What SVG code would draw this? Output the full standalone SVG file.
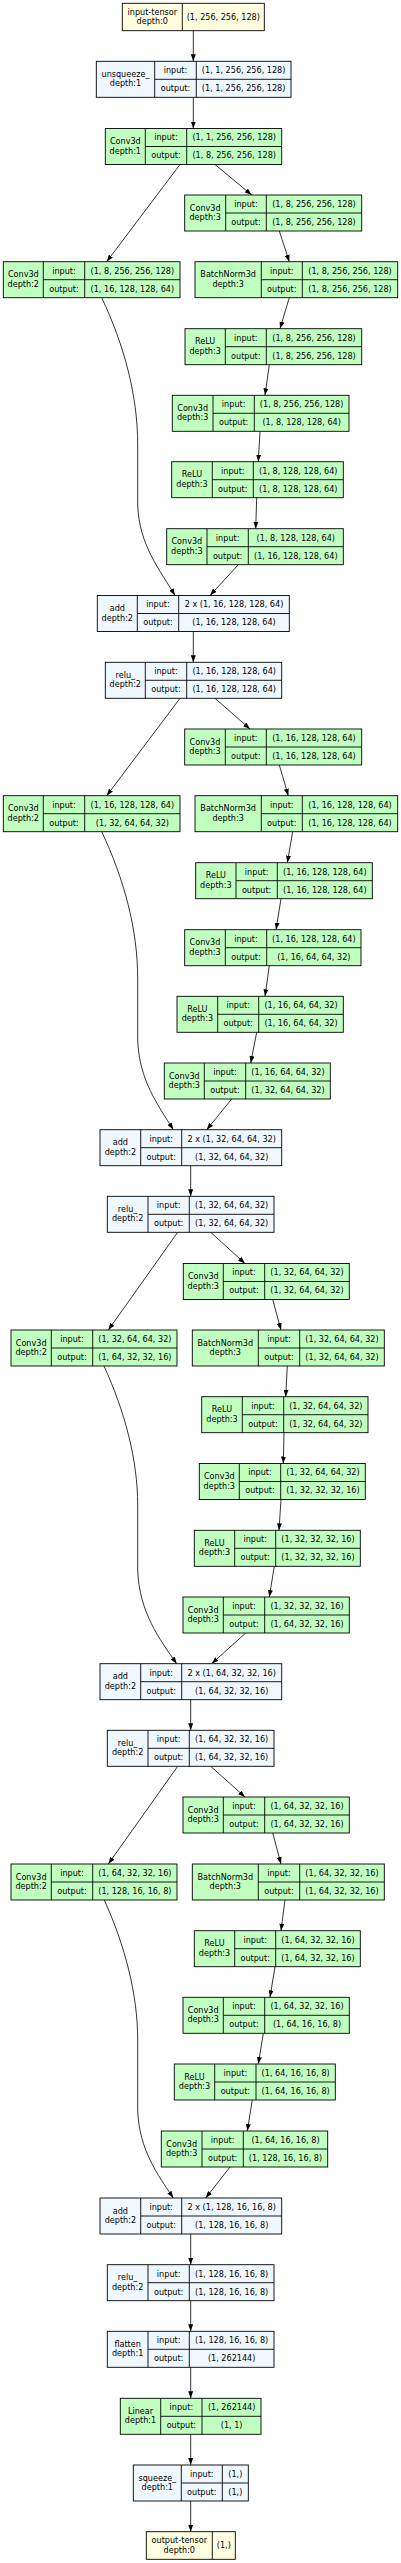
<svg xmlns="http://www.w3.org/2000/svg" width="401" height="2563" viewBox="0 0 401 2563">
<style>
.box{stroke:#000;stroke-width:0.9}
.t{fill:#ffffe0}.f{fill:#f0f8ff}.m{fill:#c1ffc1}
.ln{stroke:#000;stroke-width:0.9;fill:none}
text{font-family:"DejaVu Sans",sans-serif;font-size:8.1px;text-anchor:middle;fill:#000}
.e{stroke:#000;stroke-width:0.8;fill:none;marker-end:url(#ah)}
</style>
<defs>
<marker id="ah" markerUnits="userSpaceOnUse" markerWidth="7" markerHeight="5" refX="7" refY="2.5" orient="auto"><path d="M0,0L7,2.5L0,5z" fill="#000"/></marker>
</defs>
<rect width="401" height="2563" fill="#fff"/>
<g id="edges">
<path class="e" d="M193.3,30.7L193.3,61.3"/>
<path class="e" d="M193.3,97.3L193.3,128.5"/>
<path class="e" d="M215,164.5L251.7,195"/>
<path class="e" d="M180,164.5L106.7,261.7"/>
<path class="e" d="M279.3,231L289.3,261.7"/>
<path class="e" d="M289.3,297.7L280,328.7"/>
<path class="e" d="M269.3,364.7L265,395.3"/>
<path class="e" d="M260,431.3L258.3,461.7"/>
<path class="e" d="M256.7,497.7L255.7,528.7"/>
<path class="e" d="M238.3,564.7L210,595.5"/>
<path class="e" d="M101.7,297.7C124,345 137.7,395 137.7,445L137.7,505C139,545 160,570 175,595.5"/>
<path class="e" d="M193.3,631.5L193.3,662.3"/>
<path class="e" d="M215,698.3L250,729"/>
<path class="e" d="M180,698.3L106.7,795.7"/>
<path class="e" d="M279.3,765L288.3,795.7"/>
<path class="e" d="M292.7,831.7L287.3,862.7"/>
<path class="e" d="M281,898.7L276,929.7"/>
<path class="e" d="M269.3,965.7L265,996.3"/>
<path class="e" d="M256.7,1032.3L250.7,1063"/>
<path class="e" d="M231.7,1099L206.7,1129.7"/>
<path class="e" d="M101.7,831.7C124,879 137.7,929 137.7,979L137.7,1040C139,1080 158,1105 173.3,1129.7"/>
<path class="e" d="M190.7,1165.7L190.7,1196.3"/>
<path class="e" d="M210.7,1232.3L245,1263.5"/>
<path class="e" d="M177.7,1232.3L108.3,1330"/>
<path class="e" d="M272.7,1299.5L281,1330"/>
<path class="e" d="M287.3,1366L285.7,1396.7"/>
<path class="e" d="M284,1432.7L283.3,1463.5"/>
<path class="e" d="M281,1499.5L279,1530.3"/>
<path class="e" d="M274.3,1566.3L269.3,1597"/>
<path class="e" d="M245.7,1633L211.7,1663.7"/>
<path class="e" d="M104,1366C125,1412 137.7,1460 137.7,1505L137.7,1570C139,1612 160,1640 176.7,1663.7"/>
<path class="e" d="M190.7,1699.7L190.7,1730.3"/>
<path class="e" d="M210.7,1766.3L245,1797"/>
<path class="e" d="M177.7,1766.3L108.3,1864"/>
<path class="e" d="M272.7,1833L281,1864"/>
<path class="e" d="M285,1900L281,1930.7"/>
<path class="e" d="M275,1966.7L270,1997.3"/>
<path class="e" d="M263.3,2033.3L258.3,2064"/>
<path class="e" d="M252.3,2100L247.3,2131"/>
<path class="e" d="M230,2167L205.7,2198"/>
<path class="e" d="M104.3,1900C125,1946 137.7,1994 137.7,2040L137.7,2110C139,2150 158,2175 173.3,2198"/>
<path class="e" d="M190.7,2234L190.7,2264.7"/>
<path class="e" d="M190.7,2300.7L190.7,2331.3"/>
<path class="e" d="M190.7,2367.3L190.7,2398.3"/>
<path class="e" d="M190.7,2434.3L190.7,2465"/>
<path class="e" d="M190.7,2501L190.7,2531.7"/>
</g>

<g id="n0" transform="translate(122.3,3.3)"><rect class="box t" width="142" height="27.4"/><path class="ln" d="M60,0V27.4"/><text x="30" y="11.7">input-tensor</text><text x="30" y="21.2">depth:0</text><text x="101" y="16.7">(1, 256, 256, 128)</text></g>

<g id="n1" transform="translate(96.3,61.3)"><rect class="box f" width="194.7" height="36"/><path class="ln" d="M58.4,0V36M100,0V36M58.4,18H194.7"/><text x="29.2" y="15.5">unsqueeze_</text><text x="29.2" y="25">depth:1</text><text x="79.2" y="11.9">input:</text><text x="79.2" y="29.9">output:</text><text x="147.35" y="11.9">(1, 1, 256, 256, 128)</text><text x="147.35" y="29.9">(1, 1, 256, 256, 128)</text></g>

<g id="n2" transform="translate(105.3,128.5)"><rect class="box m" width="176.4" height="36"/><path class="ln" d="M40,0V36M81.4,0V36M40,18H176.4"/><text x="20" y="15.5">Conv3d</text><text x="20" y="25">depth:1</text><text x="60.7" y="11.9">input:</text><text x="60.7" y="29.9">output:</text><text x="128.9" y="11.9">(1, 1, 256, 256, 128)</text><text x="128.9" y="29.9">(1, 8, 256, 256, 128)</text></g>

<g id="n3" transform="translate(184.7,195)"><rect class="box m" width="177" height="36"/><path class="ln" d="M41,0V36M81.6,0V36M41,18H177"/><text x="20.5" y="15.5">Conv3d</text><text x="20.5" y="25">depth:3</text><text x="61.3" y="11.9">input:</text><text x="61.3" y="29.9">output:</text><text x="129.3" y="11.9">(1, 8, 256, 256, 128)</text><text x="129.3" y="29.9">(1, 8, 256, 256, 128)</text></g>

<g id="n4" transform="translate(3.3,261.7)"><rect class="box m" width="176.7" height="36"/><path class="ln" d="M40,0V36M81.4,0V36M40,18H176.7"/><text x="20" y="15.5">Conv3d</text><text x="20" y="25">depth:2</text><text x="60.7" y="11.9">input:</text><text x="60.7" y="29.9">output:</text><text x="129.05" y="11.9">(1, 8, 256, 256, 128)</text><text x="129.05" y="29.9">(1, 16, 128, 128, 64)</text></g>

<g id="n5" transform="translate(195,261.7)"><rect class="box m" width="202.7" height="36"/><path class="ln" d="M66.3,0V36M107.3,0V36M66.3,18H202.7"/><text x="33.15" y="15.5">BatchNorm3d</text><text x="33.15" y="25">depth:3</text><text x="86.8" y="11.9">input:</text><text x="86.8" y="29.9">output:</text><text x="155" y="11.9">(1, 8, 256, 256, 128)</text><text x="155" y="29.9">(1, 8, 256, 256, 128)</text></g>

<g id="n6" transform="translate(185,328.7)"><rect class="box m" width="176.7" height="36"/><path class="ln" d="M40.3,0V36M81.3,0V36M40.3,18H176.7"/><text x="20.15" y="15.5">ReLU</text><text x="20.15" y="25">depth:3</text><text x="60.8" y="11.9">input:</text><text x="60.8" y="29.9">output:</text><text x="129" y="11.9">(1, 8, 256, 256, 128)</text><text x="129" y="29.9">(1, 8, 256, 256, 128)</text></g>

<g id="n7" transform="translate(172.3,395.3)"><rect class="box m" width="176.7" height="36"/><path class="ln" d="M40.7,0V36M82,0V36M40.7,18H176.7"/><text x="20.35" y="15.5">Conv3d</text><text x="20.35" y="25">depth:3</text><text x="61.35" y="11.9">input:</text><text x="61.35" y="29.9">output:</text><text x="129.35" y="11.9">(1, 8, 256, 256, 128)</text><text x="129.35" y="29.9">(1, 8, 128, 128, 64)</text></g>

<g id="n8" transform="translate(171.7,461.7)"><rect class="box m" width="171.6" height="36"/><path class="ln" d="M40.6,0V36M81.6,0V36M40.6,18H171.6"/><text x="20.3" y="15.5">ReLU</text><text x="20.3" y="25">depth:3</text><text x="61.1" y="11.9">input:</text><text x="61.1" y="29.9">output:</text><text x="126.6" y="11.9">(1, 8, 128, 128, 64)</text><text x="126.6" y="29.9">(1, 8, 128, 128, 64)</text></g>

<g id="n9" transform="translate(166.7,528.7)"><rect class="box m" width="176.6" height="36"/><path class="ln" d="M40.3,0V36M81.6,0V36M40.3,18H176.6"/><text x="20.15" y="15.5">Conv3d</text><text x="20.15" y="25">depth:3</text><text x="60.95" y="11.9">input:</text><text x="60.95" y="29.9">output:</text><text x="129.1" y="11.9">(1, 8, 128, 128, 64)</text><text x="129.1" y="29.9">(1, 16, 128, 128, 64)</text></g>

<g id="n10" transform="translate(97.3,595.5)"><rect class="box f" width="192" height="36"/><path class="ln" d="M40,0V36M81.4,0V36M40,18H192"/><text x="20" y="15.5">add</text><text x="20" y="25">depth:2</text><text x="60.7" y="11.9">input:</text><text x="60.7" y="29.9">output:</text><text x="136.7" y="11.9">2 x (1, 16, 128, 128, 64)</text><text x="136.7" y="29.9">(1, 16, 128, 128, 64)</text></g>

<g id="n11" transform="translate(105.3,662.3)"><rect class="box f" width="176.4" height="36"/><path class="ln" d="M40,0V36M81.4,0V36M40,18H176.4"/><text x="20" y="15.5">relu_</text><text x="20" y="25">depth:2</text><text x="60.7" y="11.9">input:</text><text x="60.7" y="29.9">output:</text><text x="128.9" y="11.9">(1, 16, 128, 128, 64)</text><text x="128.9" y="29.9">(1, 16, 128, 128, 64)</text></g>

<g id="n12" transform="translate(184.7,729)"><rect class="box m" width="177" height="36"/><path class="ln" d="M40.6,0V36M81.6,0V36M40.6,18H177"/><text x="20.3" y="15.5">Conv3d</text><text x="20.3" y="25">depth:3</text><text x="61.1" y="11.9">input:</text><text x="61.1" y="29.9">output:</text><text x="129.3" y="11.9">(1, 16, 128, 128, 64)</text><text x="129.3" y="29.9">(1, 16, 128, 128, 64)</text></g>

<g id="n13" transform="translate(3.3,795.7)"><rect class="box m" width="176.7" height="36"/><path class="ln" d="M40,0V36M81.4,0V36M40,18H176.7"/><text x="20" y="15.5">Conv3d</text><text x="20" y="25">depth:2</text><text x="60.7" y="11.9">input:</text><text x="60.7" y="29.9">output:</text><text x="129.05" y="11.9">(1, 16, 128, 128, 64)</text><text x="129.05" y="29.9">(1, 32, 64, 64, 32)</text></g>

<g id="n14" transform="translate(195,795.7)"><rect class="box m" width="202.7" height="36"/><path class="ln" d="M66.3,0V36M107.3,0V36M66.3,18H202.7"/><text x="33.15" y="15.5">BatchNorm3d</text><text x="33.15" y="25">depth:3</text><text x="86.8" y="11.9">input:</text><text x="86.8" y="29.9">output:</text><text x="155" y="11.9">(1, 16, 128, 128, 64)</text><text x="155" y="29.9">(1, 16, 128, 128, 64)</text></g>

<g id="n15" transform="translate(195.7,862.7)"><rect class="box m" width="176.6" height="36"/><path class="ln" d="M40.3,0V36M81.6,0V36M40.3,18H176.6"/><text x="20.15" y="15.5">ReLU</text><text x="20.15" y="25">depth:3</text><text x="60.95" y="11.9">input:</text><text x="60.95" y="29.9">output:</text><text x="129.1" y="11.9">(1, 16, 128, 128, 64)</text><text x="129.1" y="29.9">(1, 16, 128, 128, 64)</text></g>

<g id="n16" transform="translate(184.7,929.7)"><rect class="box m" width="176.3" height="36"/><path class="ln" d="M40.6,0V36M82,0V36M40.6,18H176.3"/><text x="20.3" y="15.5">Conv3d</text><text x="20.3" y="25">depth:3</text><text x="61.3" y="11.9">input:</text><text x="61.3" y="29.9">output:</text><text x="129.15" y="11.9">(1, 16, 128, 128, 64)</text><text x="129.15" y="29.9">(1, 16, 64, 64, 32)</text></g>

<g id="n17" transform="translate(177,996.3)"><rect class="box m" width="166.3" height="36"/><path class="ln" d="M40.7,0V36M81.7,0V36M40.7,18H166.3"/><text x="20.35" y="15.5">ReLU</text><text x="20.35" y="25">depth:3</text><text x="61.2" y="11.9">input:</text><text x="61.2" y="29.9">output:</text><text x="124" y="11.9">(1, 16, 64, 64, 32)</text><text x="124" y="29.9">(1, 16, 64, 64, 32)</text></g>

<g id="n18" transform="translate(164.3,1063)"><rect class="box m" width="166" height="36"/><path class="ln" d="M40,0V36M81.4,0V36M40,18H166"/><text x="20" y="15.5">Conv3d</text><text x="20" y="25">depth:3</text><text x="60.7" y="11.9">input:</text><text x="60.7" y="29.9">output:</text><text x="123.7" y="11.9">(1, 16, 64, 64, 32)</text><text x="123.7" y="29.9">(1, 32, 64, 64, 32)</text></g>

<g id="n19" transform="translate(100,1129.7)"><rect class="box f" width="181.7" height="36"/><path class="ln" d="M40.7,0V36M81.7,0V36M40.7,18H181.7"/><text x="20.35" y="15.5">add</text><text x="20.35" y="25">depth:2</text><text x="61.2" y="11.9">input:</text><text x="61.2" y="29.9">output:</text><text x="131.7" y="11.9">2 x (1, 32, 64, 64, 32)</text><text x="131.7" y="29.9">(1, 32, 64, 64, 32)</text></g>

<g id="n20" transform="translate(107.3,1196.3)"><rect class="box f" width="166.7" height="36"/><path class="ln" d="M40.7,0V36M82,0V36M40.7,18H166.7"/><text x="20.35" y="15.5">relu_</text><text x="20.35" y="25">depth:2</text><text x="61.35" y="11.9">input:</text><text x="61.35" y="29.9">output:</text><text x="124.35" y="11.9">(1, 32, 64, 64, 32)</text><text x="124.35" y="29.9">(1, 32, 64, 64, 32)</text></g>

<g id="n21" transform="translate(183.3,1263.5)"><rect class="box m" width="166" height="36"/><path class="ln" d="M40,0V36M81.4,0V36M40,18H166"/><text x="20" y="15.5">Conv3d</text><text x="20" y="25">depth:3</text><text x="60.7" y="11.9">input:</text><text x="60.7" y="29.9">output:</text><text x="123.7" y="11.9">(1, 32, 64, 64, 32)</text><text x="123.7" y="29.9">(1, 32, 64, 64, 32)</text></g>

<g id="n22" transform="translate(11,1330)"><rect class="box m" width="166" height="36"/><path class="ln" d="M40.3,0V36M81.7,0V36M40.3,18H166"/><text x="20.15" y="15.5">Conv3d</text><text x="20.15" y="25">depth:2</text><text x="61" y="11.9">input:</text><text x="61" y="29.9">output:</text><text x="123.85" y="11.9">(1, 32, 64, 64, 32)</text><text x="123.85" y="29.9">(1, 64, 32, 32, 16)</text></g>

<g id="n23" transform="translate(192.3,1330)"><rect class="box m" width="192" height="36"/><path class="ln" d="M66,0V36M107.4,0V36M66,18H192"/><text x="33" y="15.5">BatchNorm3d</text><text x="33" y="25">depth:3</text><text x="86.7" y="11.9">input:</text><text x="86.7" y="29.9">output:</text><text x="149.7" y="11.9">(1, 32, 64, 64, 32)</text><text x="149.7" y="29.9">(1, 32, 64, 64, 32)</text></g>

<g id="n24" transform="translate(201.7,1396.7)"><rect class="box m" width="166.3" height="36"/><path class="ln" d="M40.6,0V36M82,0V36M40.6,18H166.3"/><text x="20.3" y="15.5">ReLU</text><text x="20.3" y="25">depth:3</text><text x="61.3" y="11.9">input:</text><text x="61.3" y="29.9">output:</text><text x="124.15" y="11.9">(1, 32, 64, 64, 32)</text><text x="124.15" y="29.9">(1, 32, 64, 64, 32)</text></g>

<g id="n25" transform="translate(199.3,1463.5)"><rect class="box m" width="166" height="36"/><path class="ln" d="M40,0V36M81.4,0V36M40,18H166"/><text x="20" y="15.5">Conv3d</text><text x="20" y="25">depth:3</text><text x="60.7" y="11.9">input:</text><text x="60.7" y="29.9">output:</text><text x="123.7" y="11.9">(1, 32, 64, 64, 32)</text><text x="123.7" y="29.9">(1, 32, 32, 32, 16)</text></g>

<g id="n26" transform="translate(194.3,1530.3)"><rect class="box m" width="166" height="36"/><path class="ln" d="M40.4,0V36M81.4,0V36M40.4,18H166"/><text x="20.2" y="15.5">ReLU</text><text x="20.2" y="25">depth:3</text><text x="60.9" y="11.9">input:</text><text x="60.9" y="29.9">output:</text><text x="123.7" y="11.9">(1, 32, 32, 32, 16)</text><text x="123.7" y="29.9">(1, 32, 32, 32, 16)</text></g>

<g id="n27" transform="translate(183,1597)"><rect class="box m" width="166.3" height="36"/><path class="ln" d="M40.3,0V36M81.7,0V36M40.3,18H166.3"/><text x="20.15" y="15.5">Conv3d</text><text x="20.15" y="25">depth:3</text><text x="61" y="11.9">input:</text><text x="61" y="29.9">output:</text><text x="124" y="11.9">(1, 32, 32, 32, 16)</text><text x="124" y="29.9">(1, 64, 32, 32, 16)</text></g>

<g id="n28" transform="translate(100,1663.7)"><rect class="box f" width="181.7" height="36"/><path class="ln" d="M40.7,0V36M81.7,0V36M40.7,18H181.7"/><text x="20.35" y="15.5">add</text><text x="20.35" y="25">depth:2</text><text x="61.2" y="11.9">input:</text><text x="61.2" y="29.9">output:</text><text x="131.7" y="11.9">2 x (1, 64, 32, 32, 16)</text><text x="131.7" y="29.9">(1, 64, 32, 32, 16)</text></g>

<g id="n29" transform="translate(107.3,1730.3)"><rect class="box f" width="166.7" height="36"/><path class="ln" d="M40.7,0V36M82,0V36M40.7,18H166.7"/><text x="20.35" y="15.5">relu_</text><text x="20.35" y="25">depth:2</text><text x="61.35" y="11.9">input:</text><text x="61.35" y="29.9">output:</text><text x="124.35" y="11.9">(1, 64, 32, 32, 16)</text><text x="124.35" y="29.9">(1, 64, 32, 32, 16)</text></g>

<g id="n30" transform="translate(183,1797)"><rect class="box m" width="166.3" height="36"/><path class="ln" d="M40.3,0V36M81.7,0V36M40.3,18H166.3"/><text x="20.15" y="15.5">Conv3d</text><text x="20.15" y="25">depth:3</text><text x="61" y="11.9">input:</text><text x="61" y="29.9">output:</text><text x="124" y="11.9">(1, 64, 32, 32, 16)</text><text x="124" y="29.9">(1, 64, 32, 32, 16)</text></g>

<g id="n31" transform="translate(11,1864)"><rect class="box m" width="166" height="36"/><path class="ln" d="M40.3,0V36M81.7,0V36M40.3,18H166"/><text x="20.15" y="15.5">Conv3d</text><text x="20.15" y="25">depth:2</text><text x="61" y="11.9">input:</text><text x="61" y="29.9">output:</text><text x="123.85" y="11.9">(1, 64, 32, 32, 16)</text><text x="123.85" y="29.9">(1, 128, 16, 16, 8)</text></g>

<g id="n32" transform="translate(192.3,1864)"><rect class="box m" width="192" height="36"/><path class="ln" d="M66,0V36M107.4,0V36M66,18H192"/><text x="33" y="15.5">BatchNorm3d</text><text x="33" y="25">depth:3</text><text x="86.7" y="11.9">input:</text><text x="86.7" y="29.9">output:</text><text x="149.7" y="11.9">(1, 64, 32, 32, 16)</text><text x="149.7" y="29.9">(1, 64, 32, 32, 16)</text></g>

<g id="n33" transform="translate(194.3,1930.7)"><rect class="box m" width="166" height="36"/><path class="ln" d="M40.4,0V36M81.4,0V36M40.4,18H166"/><text x="20.2" y="15.5">ReLU</text><text x="20.2" y="25">depth:3</text><text x="60.9" y="11.9">input:</text><text x="60.9" y="29.9">output:</text><text x="123.7" y="11.9">(1, 64, 32, 32, 16)</text><text x="123.7" y="29.9">(1, 64, 32, 32, 16)</text></g>

<g id="n34" transform="translate(183,1997.3)"><rect class="box m" width="166.3" height="36"/><path class="ln" d="M40.3,0V36M81.7,0V36M40.3,18H166.3"/><text x="20.15" y="15.5">Conv3d</text><text x="20.15" y="25">depth:3</text><text x="61" y="11.9">input:</text><text x="61" y="29.9">output:</text><text x="124" y="11.9">(1, 64, 32, 32, 16)</text><text x="124" y="29.9">(1, 64, 16, 16, 8)</text></g>

<g id="n35" transform="translate(174.3,2064)"><rect class="box m" width="161" height="36"/><path class="ln" d="M40.4,0V36M81.7,0V36M40.4,18H161"/><text x="20.2" y="15.5">ReLU</text><text x="20.2" y="25">depth:3</text><text x="61.05" y="11.9">input:</text><text x="61.05" y="29.9">output:</text><text x="121.35" y="11.9">(1, 64, 16, 16, 8)</text><text x="121.35" y="29.9">(1, 64, 16, 16, 8)</text></g>

<g id="n36" transform="translate(161.3,2131)"><rect class="box m" width="166.4" height="36"/><path class="ln" d="M40.7,0V36M82,0V36M40.7,18H166.4"/><text x="20.35" y="15.5">Conv3d</text><text x="20.35" y="25">depth:3</text><text x="61.35" y="11.9">input:</text><text x="61.35" y="29.9">output:</text><text x="124.2" y="11.9">(1, 64, 16, 16, 8)</text><text x="124.2" y="29.9">(1, 128, 16, 16, 8)</text></g>

<g id="n37" transform="translate(100,2198)"><rect class="box f" width="181.7" height="36"/><path class="ln" d="M40.7,0V36M81.7,0V36M40.7,18H181.7"/><text x="20.35" y="15.5">add</text><text x="20.35" y="25">depth:2</text><text x="61.2" y="11.9">input:</text><text x="61.2" y="29.9">output:</text><text x="131.7" y="11.9">2 x (1, 128, 16, 16, 8)</text><text x="131.7" y="29.9">(1, 128, 16, 16, 8)</text></g>

<g id="n38" transform="translate(107.3,2264.7)"><rect class="box f" width="166.7" height="36"/><path class="ln" d="M40.7,0V36M82,0V36M40.7,18H166.7"/><text x="20.35" y="15.5">relu_</text><text x="20.35" y="25">depth:2</text><text x="61.35" y="11.9">input:</text><text x="61.35" y="29.9">output:</text><text x="124.35" y="11.9">(1, 128, 16, 16, 8)</text><text x="124.35" y="29.9">(1, 128, 16, 16, 8)</text></g>

<g id="n39" transform="translate(107.3,2331.3)"><rect class="box f" width="166.7" height="36"/><path class="ln" d="M40.7,0V36M82,0V36M40.7,18H166.7"/><text x="20.35" y="15.5">flatten</text><text x="20.35" y="25">depth:1</text><text x="61.35" y="11.9">input:</text><text x="61.35" y="29.9">output:</text><text x="124.35" y="11.9">(1, 128, 16, 16, 8)</text><text x="124.35" y="29.9">(1, 262144)</text></g>

<g id="n40" transform="translate(120.3,2398.3)"><rect class="box m" width="140.7" height="36"/><path class="ln" d="M40.4,0V36M81.7,0V36M40.4,18H140.7"/><text x="20.2" y="15.5">Linear</text><text x="20.2" y="25">depth:1</text><text x="61.05" y="11.9">input:</text><text x="61.05" y="29.9">output:</text><text x="111.35" y="11.9">(1, 262144)</text><text x="111.35" y="29.9">(1, 1)</text></g>

<g id="n41" transform="translate(133.3,2465)"><rect class="box f" width="115" height="36"/><path class="ln" d="M48,0V36M89,0V36M48,18H115"/><text x="24" y="15.5">squeeze_</text><text x="24" y="25">depth:1</text><text x="68.5" y="11.9">input:</text><text x="68.5" y="29.9">output:</text><text x="102" y="11.9">(1,)</text><text x="102" y="29.9">(1,)</text></g>

<g id="n42" transform="translate(146.3,2531.7)"><rect class="box t" width="89" height="27.6"/><path class="ln" d="M66,0V27.6"/><text x="33" y="11.8">output-tensor</text><text x="33" y="21.3">depth:0</text><text x="77.5" y="16.8">(1,)</text></g>
</svg>
